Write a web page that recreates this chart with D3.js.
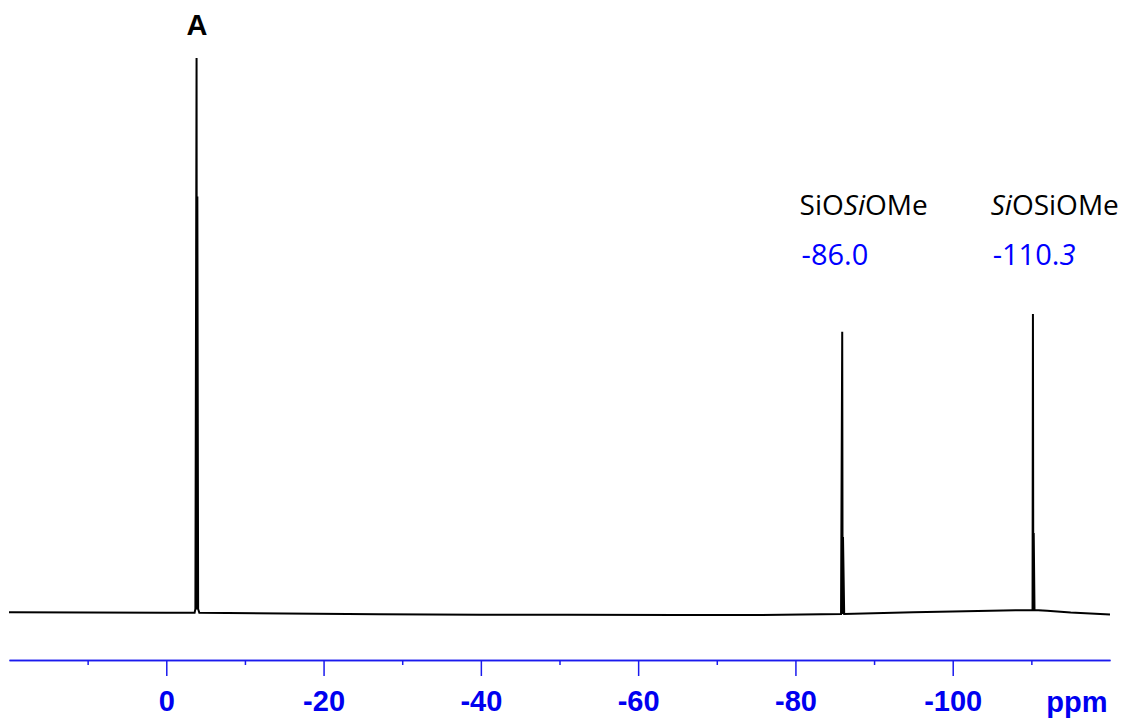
<!DOCTYPE html>
<html>
<head>
<meta charset="utf-8">
<script src="https://cdn.jsdelivr.net/npm/d3@7"></script>
<style>
  body { margin: 0; background: #fff; }
  svg { display: block; }
</style>
</head>
<body>
<script>
// spectrum (ppm, relative intensity)
var spectrumPpm = [20, 10, 0, -3.6, -3.7, -3.85, -3.9, -3.95, -4.05, -4.2,
  -15, -27, -40, -51, -65, -75, -85.8, -85.95, -86.0, -86.05, -86.2,
  -95, -100, -108, -110.15, -110.2, -110.25, -110.3, -110.4, -112, -115, -120];
var spectrumInt = [0, -0.05, -0.1, -0.1, 0.6, 100, 0.5, 75, 0.6, -0.1,
  -0.2, -0.35, -0.45, -0.45, -0.5, -0.5, -0.3, 50.6, -0.3, 13.6, -0.3,
  0.0, 0.15, 0.35, 0.4, 53.8, 0.4, 14.3, 0.4, 0.3, -0.05, -0.4];

var majorTicks = [0, -20, -40, -60, -80, -100];
var minorTicks = [10, -10, -30, -50, -70, -90, -110];

var peakA = -3.9;
var peakNames = ["SiOSiOMe", "SiOSiOMe"];
var peakShifts = [-86.0, -110.3];

var width = 1127;
var height = 720;

var svg = d3.select("body")
	.append("svg")
	.attr("width", width)
	.attr("height", height);

var x = d3.scaleLinear().domain([20, -120]).range([9, 1110]);
var y = d3.scaleLinear().domain([0, 100]).range([612.3, 58]);

var points = spectrumPpm.map(function(d, i) { return [d, spectrumInt[i]]; });

var line = d3.line()
	.x(function(d) { return x(d[0]); })
	.y(function(d) { return y(d[1]); });

svg.append("path")
	.datum(points)
	.attr("fill", "none")
	.attr("stroke", "#000")
	.attr("stroke-width", 2)
	.attr("d", line);

/* axis */
var axisY = 660;
var blue = "#1a1aee";

var minorAxis = d3.axisBottom(x)
	.tickValues(minorTicks)
	.tickSize(5)
	.tickSizeOuter(0)
	.tickFormat("");

var majorAxis = d3.axisBottom(x)
	.tickValues(majorTicks)
	.tickSize(16)
	.tickSizeOuter(0)
	.tickPadding(14)
	.tickFormat(function(d) { return d; });

var gMinor = svg.append("g")
	.attr("transform", "translate(0," + axisY + ")")
	.call(minorAxis);
var gMajor = svg.append("g")
	.attr("transform", "translate(0," + axisY + ")")
	.call(majorAxis);

[gMinor, gMajor].forEach(function(g) {
	g.selectAll("path, line")
		.attr("stroke", blue)
		.attr("stroke-width", 1.5);
});

gMajor.selectAll("text")
	.attr("fill", "#0000f0")
	.attr("font-family", "Liberation Sans, Arial, sans-serif")
	.attr("font-weight", "bold")
	.attr("font-size", 29);

svg.append("text")
	.attr("x", x(-115.8))
	.attr("y", 712)
	.attr("text-anchor", "middle")
	.attr("fill", "#0000f0")
	.attr("font-family", "Liberation Sans, Arial, sans-serif")
	.attr("font-weight", "bold")
	.attr("font-size", 29)
	.text("ppm");

/* peak labels */
svg.append("text")
	.attr("x", x(peakA))
	.attr("y", 35)
	.attr("text-anchor", "middle")
	.attr("font-family", "Liberation Sans, Arial, sans-serif")
	.attr("font-weight", "bold")
	.attr("font-size", 29)
	.text("A");

// which Si is italic in each name
var italicIdx = [2, 0];

peakShifts.forEach(function(p, i) {
	var tx = x(p) - 43;
	var name = svg.append("text")
		.attr("x", tx)
		.attr("y", 215)
		.attr("font-family", "Open Sans, sans-serif")
		.attr("font-size", 28)
		.attr("fill", "#000");
	var parts = peakNames[i].match(/Si|O|Me/g);
	parts.forEach(function(s, j) {
		name.append("tspan")
			.attr("font-style", j === italicIdx[i] ? "italic" : "normal")
			.text(s);
	});

	var num = svg.append("text")
		.attr("x", tx + 2)
		.attr("y", 265)
		.attr("font-family", "Open Sans, sans-serif")
		.attr("font-size", 29)
		.attr("fill", "#0000ff");
	var str = p.toFixed(1);
	if (i === 1) {
		num.append("tspan").text(str.slice(0, -1));
		num.append("tspan").attr("font-style", "italic").text(str.slice(-1));
	} else {
		num.text(str);
	}
});
</script>
</body>
</html>
